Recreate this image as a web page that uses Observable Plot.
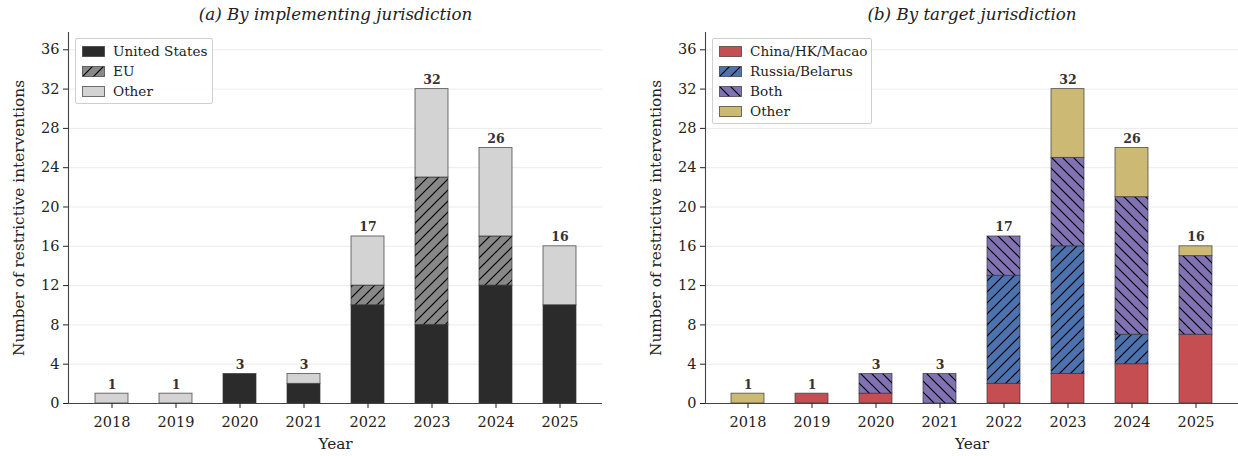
<!DOCTYPE html>
<html>
<head>
<meta charset="utf-8">
<script src="https://cdn.jsdelivr.net/npm/d3@7"></script>
<script src="https://cdn.jsdelivr.net/npm/@observablehq/plot@0.6"></script>
<style>
  body { margin: 0; background: #fff; font-family: "DejaVu Serif", serif; }
  #wrap { position: relative; width: 1238px; height: 456px; overflow: hidden; }
  .panel { position: absolute; top: 0; }
  .legend { position: absolute; border: 1.5px solid #cfcfcf; border-radius: 2px; background: rgba(255,255,255,0.85); box-sizing: border-box; }
  .item { position: absolute; left: 6px; height: 20px; line-height: 20px; font-size: 13.6px; color: #222; white-space: nowrap; }
  .item svg { position: absolute; left: 0; top: 4.5px; }
  .item span { position: absolute; left: 31px; top: 0; }
</style>
</head>
<body>
<svg width="0" height="0" style="position:absolute">
  <defs>
    <pattern id="hatchEU" patternUnits="userSpaceOnUse" width="11" height="11">
      <rect width="11" height="11" fill="#888888"/>
      <path d="M0,11 L11,0 M-2,2 L2,-2 M9,13 L13,9" stroke="#000" stroke-width="1.2"/>
    </pattern>
    <pattern id="hatchRU" patternUnits="userSpaceOnUse" width="11" height="11">
      <rect width="11" height="11" fill="#4c72b0"/>
      <path d="M0,11 L11,0 M-2,2 L2,-2 M9,13 L13,9" stroke="#000" stroke-width="1.2"/>
    </pattern>
    <pattern id="hatchBoth" patternUnits="userSpaceOnUse" width="11" height="11">
      <rect width="11" height="11" fill="#8172b3"/>
      <path d="M0,0 L11,11 M-2,9 L2,13 M9,-2 L13,2" stroke="#000" stroke-width="1.2"/>
    </pattern>
  </defs>
</svg>
<div id="wrap"></div>
<script>
// ---- data ----
const years = ["2018", "2019", "2020", "2021", "2022", "2023", "2024", "2025"];
const yTicks = [0, 4, 8, 12, 16, 20, 24, 28, 32, 36];

const implCats = ["United States", "EU", "Other"];
const usVals = [0, 0, 3, 2, 10, 8, 12, 10];
const euVals = [0, 0, 0, 0, 2, 15, 5, 0];
const otherImplVals = [1, 1, 0, 1, 5, 9, 9, 6];
const implFills = ["#2b2b2b", "url(#hatchEU)", "#d3d3d3"];

const targetCats = ["China/HK/Macao", "Russia/Belarus", "Both", "Other"];
const chinaVals = [0, 1, 1, 0, 2, 3, 4, 7];
const russiaVals = [0, 0, 0, 0, 11, 13, 3, 0];
const bothVals = [0, 0, 2, 3, 4, 9, 14, 8];
const otherTargetVals = [1, 0, 0, 0, 0, 7, 5, 1];
const targetFills = ["#c44e52", "url(#hatchRU)", "url(#hatchBoth)", "#ccb974"];

const yLabel = "Number of restrictive interventions";
const xLabel = "Year";

function panel({cats, series, fills, title, marginLeft, marginRight}) {
  const data = [];
  cats.forEach((c, i) => years.forEach((y, j) => {
    if (series[i][j] > 0) data.push({year: y, cat: c, value: series[i][j]});
  }));
  const totals = years.map((y, j) => ({year: y, total: d3.sum(series, s => s[j])}));
  return Plot.plot({
    width: 619, height: 456,
    marginTop: 32, marginBottom: 53, marginLeft, marginRight,
    style: {fontFamily: "DejaVu Serif", fontSize: "14.5px", color: "#222", background: "transparent", overflow: "visible"},
    x: {type: "band", domain: years, paddingInner: 0.4876, paddingOuter: 0.39},
    y: {domain: [0, 37.76]},
    color: {domain: cats, range: fills},
    marks: [
      Plot.gridY(yTicks, {stroke: "#ebebeb", strokeOpacity: 1, strokeWidth: 1}),
      Plot.barY(data, {x: "year", y: "value", fill: "cat", order: cats, stroke: "#333", strokeWidth: 0.9, strokeOpacity: 0.75}),
      Plot.text(totals, {x: "year", y: "total", text: d => String(d.total), dy: -9, fontWeight: "bold", fontSize: 12.5, fill: "#333"}),
      Plot.ruleY([0], {stroke: "#444", strokeWidth: 1.1}),
      Plot.frame({anchor: "left", stroke: "#444", strokeWidth: 1.1}),
      Plot.axisY({ticks: yTicks, tickSize: 5, tickPadding: 4, label: null}),
      Plot.axisX({tickSize: 5, tickPadding: 8, label: null}),
      Plot.text([xLabel], {frameAnchor: "bottom", lineAnchor: "middle", dy: 41, fontSize: 15.3, fill: "#222"}),
      Plot.text([yLabel], {frameAnchor: "left", textAnchor: "middle", lineAnchor: "middle", rotate: -90, dx: -49, fontSize: 15.3, fill: "#222"}),
      Plot.text([title], {frameAnchor: "top", lineAnchor: "middle", dy: -18, fontSize: 16.7, fontStyle: "italic", fill: "#222"})
    ]
  });
}

const wrap = document.getElementById("wrap");

const a = panel({
  cats: implCats, series: [usVals, euVals, otherImplVals], fills: implFills,
  title: "(a) By implementing jurisdiction", marginLeft: 68, marginRight: 17
});
a.classList.add("panel"); a.style.left = "0px";
wrap.appendChild(a);

const b = panel({
  cats: targetCats, series: [chinaVals, russiaVals, bothVals, otherTargetVals], fills: targetFills,
  title: "(b) By target jurisdiction", marginLeft: 86, marginRight: 0
});
b.classList.add("panel"); b.style.left = "619px";
wrap.appendChild(b);

function legend(cats, fills, left, top, width) {
  const box = document.createElement("div");
  box.className = "legend";
  box.style.left = left + "px";
  box.style.top = top + "px";
  box.style.width = width + "px";
  box.style.height = (cats.length * 20 + 6) + "px";
  cats.forEach((c, i) => {
    const it = document.createElement("div");
    it.className = "item";
    it.style.top = (2 + i * 20) + "px";
    it.innerHTML = `<svg width="23" height="11"><rect x="0.5" y="0.5" width="22" height="10" fill="${fills[i]}" stroke="#333" stroke-opacity="0.75" stroke-width="0.9"/></svg><span></span>`;
    it.querySelector("span").textContent = c;
    box.appendChild(it);
  });
  wrap.appendChild(box);
}
legend(implCats, implFills, 75, 38, 138);
legend(targetCats, targetFills, 712, 38, 160);
</script>
</body>
</html>
